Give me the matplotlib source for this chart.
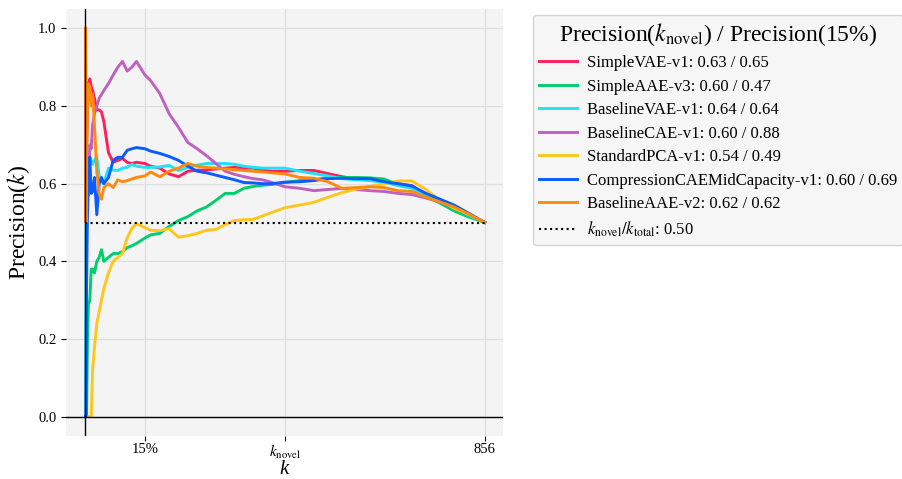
import matplotlib
matplotlib.use("Agg")
import matplotlib.pyplot as plt
import numpy as np

plt.rcParams["font.family"] = "Liberation Serif"
plt.rcParams["mathtext.fontset"] = "stix"

k_total = 856
k_novel = 428

k = [1, 2, 3, 5, 7, 10, 13, 16, 20, 25, 30, 35, 40, 50, 60, 70, 80, 90, 100, 110,
     128, 140, 160, 180, 200, 220, 240, 260, 280, 300, 320, 340, 360, 380, 400, 428,
     460, 490, 520, 550, 580, 610, 640, 670, 700, 730, 760, 790, 820, 856]

simple_vae = [1.0, 0.5, 0.67, 0.8, 0.857, 0.87, 0.85, 0.84, 0.82, 0.79, 0.79, 0.785, 0.76,
              0.68, 0.655, 0.66, 0.665, 0.655, 0.652, 0.655, 0.652, 0.645, 0.64, 0.625,
              0.618, 0.632, 0.635, 0.635, 0.638, 0.64, 0.642, 0.64, 0.64, 0.635, 0.632,
              0.632, 0.634, 0.634, 0.626, 0.618, 0.612, 0.61, 0.605, 0.6, 0.595, 0.57,
              0.553, 0.54, 0.52, 0.5]
simple_aae = [0.0, 0.0, 0.0, 0.2, 0.29, 0.3, 0.38, 0.38, 0.37, 0.4, 0.41, 0.43, 0.4, 0.41,
              0.42, 0.42, 0.425, 0.435, 0.44, 0.446, 0.46, 0.468, 0.472, 0.49, 0.505,
              0.515, 0.53, 0.54, 0.557, 0.575, 0.575, 0.588, 0.593, 0.596, 0.598, 0.603,
              0.608, 0.61, 0.616, 0.616, 0.616, 0.615, 0.612, 0.598, 0.592, 0.568, 0.55,
              0.53, 0.515, 0.5]
baseline_vae = [0.0, 0.5, 0.67, 0.6, 0.66, 0.67, 0.66, 0.65, 0.66, 0.668, 0.62, 0.605, 0.6,
                0.64, 0.635, 0.634, 0.64, 0.642, 0.65, 0.645, 0.642, 0.642, 0.643, 0.647,
                0.634, 0.642, 0.648, 0.652, 0.652, 0.652, 0.65, 0.645, 0.642, 0.64, 0.64,
                0.64, 0.632, 0.626, 0.62, 0.613, 0.61, 0.608, 0.604, 0.595, 0.588, 0.57,
                0.555, 0.54, 0.52, 0.5]
baseline_cae = [1.0, 0.5, 0.67, 0.6, 0.57, 0.7, 0.69, 0.75, 0.78, 0.8, 0.82, 0.83, 0.84,
                0.858, 0.88, 0.9, 0.915, 0.89, 0.9, 0.915, 0.88, 0.866, 0.832, 0.78, 0.745,
                0.706, 0.69, 0.672, 0.652, 0.632, 0.624, 0.618, 0.613, 0.61, 0.603, 0.592,
                0.588, 0.582, 0.585, 0.588, 0.585, 0.582, 0.58, 0.575, 0.572, 0.563, 0.553,
                0.538, 0.522, 0.5]
standard_pca = [0.0, 0.0, 0.0, 0.0, 0.0, 0.0, 0.0, 0.12, 0.18, 0.24, 0.27, 0.3, 0.33, 0.37,
                0.4, 0.41, 0.42, 0.46, 0.485, 0.497, 0.487, 0.48, 0.479, 0.484, 0.462,
                0.466, 0.472, 0.48, 0.482, 0.495, 0.505, 0.507, 0.508, 0.517, 0.526, 0.538,
                0.545, 0.552, 0.565, 0.577, 0.586, 0.593, 0.6, 0.607, 0.607, 0.585, 0.557,
                0.537, 0.522, 0.5]
compression_cae = [0.0, 0.0, 0.33, 0.52, 0.6, 0.668, 0.575, 0.58, 0.616, 0.52, 0.6, 0.616,
                   0.6, 0.616, 0.66, 0.668, 0.668, 0.686, 0.69, 0.693, 0.69, 0.684, 0.678,
                   0.67, 0.66, 0.645, 0.632, 0.628, 0.622, 0.616, 0.61, 0.603, 0.602, 0.6,
                   0.6, 0.604, 0.605, 0.608, 0.613, 0.614, 0.613, 0.613, 0.605, 0.6, 0.594,
                   0.575, 0.56, 0.545, 0.525, 0.5]
baseline_aae = [1.0, 0.5, 0.67, 0.8, 0.857, 0.85, 0.8, 0.83, 0.75, 0.63, 0.575, 0.56, 0.59,
                0.6, 0.59, 0.61, 0.605, 0.608, 0.612, 0.616, 0.62, 0.63, 0.618, 0.632, 0.64,
                0.652, 0.645, 0.642, 0.64, 0.638, 0.636, 0.634, 0.632, 0.63, 0.628, 0.625,
                0.616, 0.614, 0.605, 0.588, 0.59, 0.592, 0.59, 0.582, 0.58, 0.565, 0.553,
                0.54, 0.523, 0.5]

names = ["SimpleVAE-v1", "SimpleAAE-v3", "BaselineVAE-v1", "BaselineCAE-v1",
         "StandardPCA-v1", "CompressionCAEMidCapacity-v1", "BaselineAAE-v2"]
series = [simple_vae, simple_aae, baseline_vae, baseline_cae, standard_pca,
          compression_cae, baseline_aae]
at_novel = [0.63, 0.60, 0.64, 0.60, 0.54, 0.60, 0.62]
at_15 = [0.65, 0.47, 0.64, 0.88, 0.49, 0.69, 0.62]
colors = ["#ff1f5b", "#00cd6c", "#1ee3f5", "#c060c0", "#ffc61e", "#0a5cff", "#ff8a10"]

fig = plt.figure(figsize=(9.03, 4.79), dpi=100)
ax = fig.add_axes([66 / 903, 1 - 436 / 479, (503 - 66) / 903, (436 - 9) / 479])
ax.set_facecolor("#f4f4f4")
for s in ax.spines.values():
    s.set_visible(False)
ax.grid(True, color="#dedede", lw=0.9)
ax.set_axisbelow(True)

for name, vals, a, b, c in zip(names, series, at_novel, at_15, colors):
    ax.plot(k, vals, color=c, lw=2.1, label=f"{name}: {a:.2f} / {b:.2f}")

ax.plot([0, k_total], [k_novel / k_total] * 2, "k:", lw=1.5,
        label=r"$k_\mathrm{novel}/k_\mathrm{total}$: 0.50")
ax.axhline(0, color="black", lw=1)
ax.axvline(0, color="black", lw=1)

ax.set_xlim(-41, 895)
ax.set_ylim(-0.05, 1.05)
ax.set_xticks([0.15 * k_total, k_novel, k_total])
ax.set_xticklabels(["15%", r"$k_\mathrm{novel}$", "856"])
ax.set_yticks([0, 0.2, 0.4, 0.6, 0.8, 1.0])
ax.tick_params(labelsize=10.5, length=3.5, width=0.8)
ax.tick_params(axis="x", pad=1.5)
ax.xaxis.get_ticklabels()[1].set_fontsize(11)
ax.set_xlabel("k", fontsize=15, fontstyle="italic")
ax.xaxis.set_label_coords(0.5, -0.056)
ax.set_ylabel("Precision($k$)", fontsize=17, labelpad=4)

leg = fig.legend(loc="upper left", bbox_to_anchor=(533 / 903, 1 - 15 / 479),
                 bbox_transform=fig.transFigure, borderaxespad=0,
                 title=r"Precision($k_\mathrm{novel}$) / Precision(15%)",
                 fontsize=12, title_fontsize=17, handlelength=2.3,
                 handletextpad=0.6, borderpad=0.35,
                 frameon=True, facecolor="#f4f4f4", edgecolor="#cccccc",
                 fancybox=True, labelspacing=0.45)

fig.savefig("out.png", dpi=100)
